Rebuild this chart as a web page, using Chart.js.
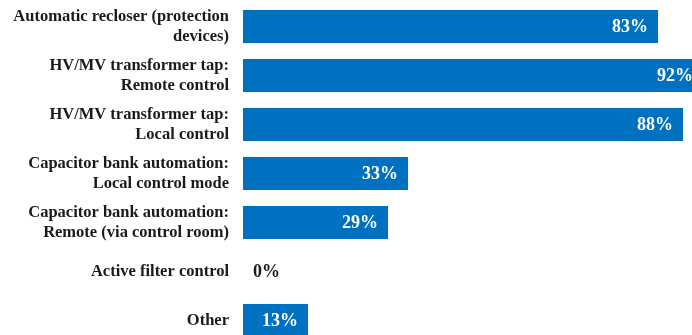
<!DOCTYPE html>
<html>
<head>
<meta charset="utf-8">
<script src="https://cdn.jsdelivr.net/npm/chart.js@4.4.1/dist/chart.umd.min.js"></script>
<style>
  html, body { margin: 0; padding: 0; background: #fff; overflow: hidden; }
  #wrap { width: 692px; height: 335px; overflow: hidden; position: relative; }
  #chart { position: absolute; left: 0; top: 0; }
</style>
</head>
<body>
<div id="wrap"><canvas id="chart" width="743" height="345"></canvas></div>
<script>
// categories (multi-line labels)
const kategori = [
    ["Automatic recloser (protection", "devices)"],
    ["HV/MV transformer tap:", "Remote control"],
    ["HV/MV transformer tap:", "Local control"],
    ["Capacitor bank automation:", "Local control mode"],
    ["Capacitor bank automation:", "Remote (via control room)"],
    "Active filter control",
    "Other"
];
// percentages
const nilai = [83, 92, 88, 33, 29, 0, 13];

const warnaBar = "#0070C0";
const fontSerif = "'Liberation Serif', 'DejaVu Serif', serif";

// tulis label persen di ujung bar
const labelPersen = {
    id: "labelPersen",
    afterDatasetsDraw(chart) {
        const ctx = chart.ctx;
        const meta = chart.getDatasetMeta(0);
        ctx.save();
        ctx.font = "bold 18px " + fontSerif;
        ctx.textBaseline = "middle";
        meta.data.forEach((bar, i) => {
            const v = nilai[i];
            const teks = v + "%";
            if (v > 0) {
                ctx.fillStyle = "#ffffff";
                ctx.textAlign = "right";
                ctx.fillText(teks, bar.x - 10, bar.y + 1);
            } else {
                ctx.fillStyle = "#1a1a1a";
                ctx.textAlign = "left";
                ctx.fillText(teks, bar.x + 10, bar.y + 1);
            }
        });
        ctx.restore();
    }
};

new Chart(document.getElementById("chart").getContext("2d"), {
    type: "bar",
    data: {
        labels: kategori,
        datasets: [{
            data: nilai,
            backgroundColor: warnaBar,
            borderWidth: 0,
            categoryPercentage: 1.0,
            barPercentage: 0.67
        }]
    },
    options: {
        indexAxis: "y",
        responsive: false,
        animation: false,
        layout: { padding: { top: 2, left: 0, right: 0, bottom: 0 } },
        plugins: {
            legend: { display: false },
            tooltip: { enabled: false }
        },
        scales: {
            x: {
                display: false,
                min: 0,
                max: 100
            },
            y: {
                grid: { display: false, drawTicks: false },
                border: { display: false },
                ticks: {
                    color: "#1a1a1a",
                    padding: 14,
                    font: { family: fontSerif, size: 16.5, weight: "bold", lineHeight: 1.2 }
                },
                afterFit(scale) {
                    scale.width = 243;
                    // jangan biarkan label menyusutkan area chart
                    scale.paddingTop = 0;
                    scale.paddingBottom = 0;
                }
            }
        }
    },
    plugins: [labelPersen]
});
</script>
</body>
</html>
